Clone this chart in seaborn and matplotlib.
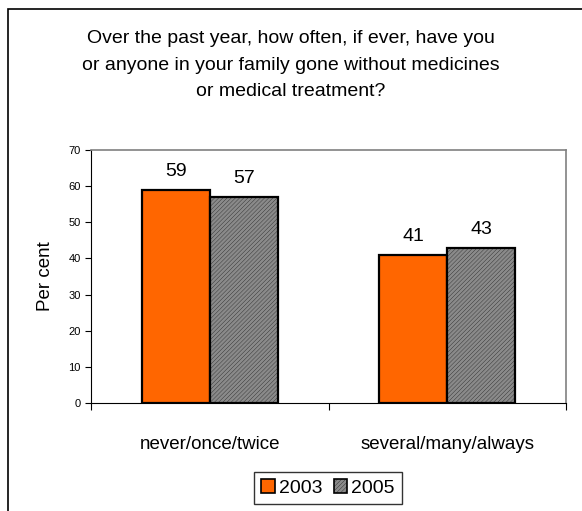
import pandas as pd
import numpy as np
import matplotlib
matplotlib.use('Agg')
import matplotlib.pyplot as plt
import seaborn as sns
from matplotlib.patches import Rectangle
from matplotlib.ticker import FixedLocator

# data
respostas = ['never/once/twice', 'several/many/always']
anos = ['2003', '2005']
valores_2003 = [59, 41]
valores_2005 = [57, 43]

df = pd.DataFrame({
    'Resposta': respostas * 2,
    'Ano': [anos[0]] * 2 + [anos[1]] * 2,
    'Valor': valores_2003 + valores_2005
})

sns.set_style('white')
plt.rcParams['font.family'] = ['Liberation Sans', 'DejaVu Sans']
plt.rcParams['text.color'] = 'black'
plt.rcParams['axes.labelcolor'] = 'black'
plt.rcParams['xtick.color'] = 'black'
plt.rcParams['ytick.color'] = 'black'
plt.rcParams['hatch.linewidth'] = 0.2

laranja = '#FF6600'
cinza = '#8A8A8A'

fig = plt.figure(figsize=(5.82, 5.11), dpi=100)
ax = fig.add_axes([91/582, 1 - 403/511, 475/582, 253/511])

sns.barplot(data=df, x='Resposta', y='Valor', hue='Ano',
            palette=[laranja, cinza], saturation=1, width=0.573,
            edgecolor='black', linewidth=1.6, ax=ax)

# textura fina nas barras cinzas
for bar in ax.containers[1]:
    bar.set_hatch('////////')

for cont in ax.containers:
    ax.bar_label(cont, fmt='%d', padding=7, fontsize=14)

ax.set_xlim(-0.5, 1.5)
ax.set_ylim(0, 70)
ax.set_yticks(np.arange(0, 71, 10))
ax.tick_params(axis='y', labelsize=8, length=4, direction='out', left=True, width=0.8)
ax.tick_params(axis='x', which='major', length=0, labelsize=13.5, pad=24)
ax.xaxis.set_minor_locator(FixedLocator([-0.5, 0.5, 1.5]))
ax.tick_params(axis='x', which='minor', length=5, direction='out', bottom=True, width=0.8)

ax.set_xlabel('')
ax.set_ylabel('Per cent', fontsize=13.5, labelpad=10)

for lado in ['left', 'bottom']:
    ax.spines[lado].set_color('black')
    ax.spines[lado].set_linewidth(0.8)
for lado in ['top', 'right']:
    ax.spines[lado].set_color('#808080')
    ax.spines[lado].set_linewidth(1.2)

ax.get_legend().remove()
handles = [Rectangle((0, 0), 1, 1, facecolor=laranja, edgecolor='black', linewidth=1.2),
           Rectangle((0, 0), 1, 1, facecolor=cinza, edgecolor='black', linewidth=1.2, hatch='////////')]
fig.legend(handles, anos, loc='center', bbox_to_anchor=(328/582, 1 - 488/511),
           ncol=2, fontsize=14, frameon=True, fancybox=False, edgecolor='black',
           handlelength=0.7, handleheight=0.7, handletextpad=0.2, columnspacing=0.6,
           borderpad=0.35, borderaxespad=0)

fig.text(0.5, 1 - 65/511,
         'Over the past year, how often, if ever, have you\n'
         'or anyone in your family gone without medicines\n'
         'or medical treatment?',
         ha='center', va='center', fontsize=14, linespacing=1.75)

# moldura da figura
fig.patches.append(Rectangle((8/582, -0.1), 1.2, 1.1 - 9/511, transform=fig.transFigure,
                             fill=False, edgecolor='black', linewidth=1.2))

fig.savefig('out.png', dpi=100)
